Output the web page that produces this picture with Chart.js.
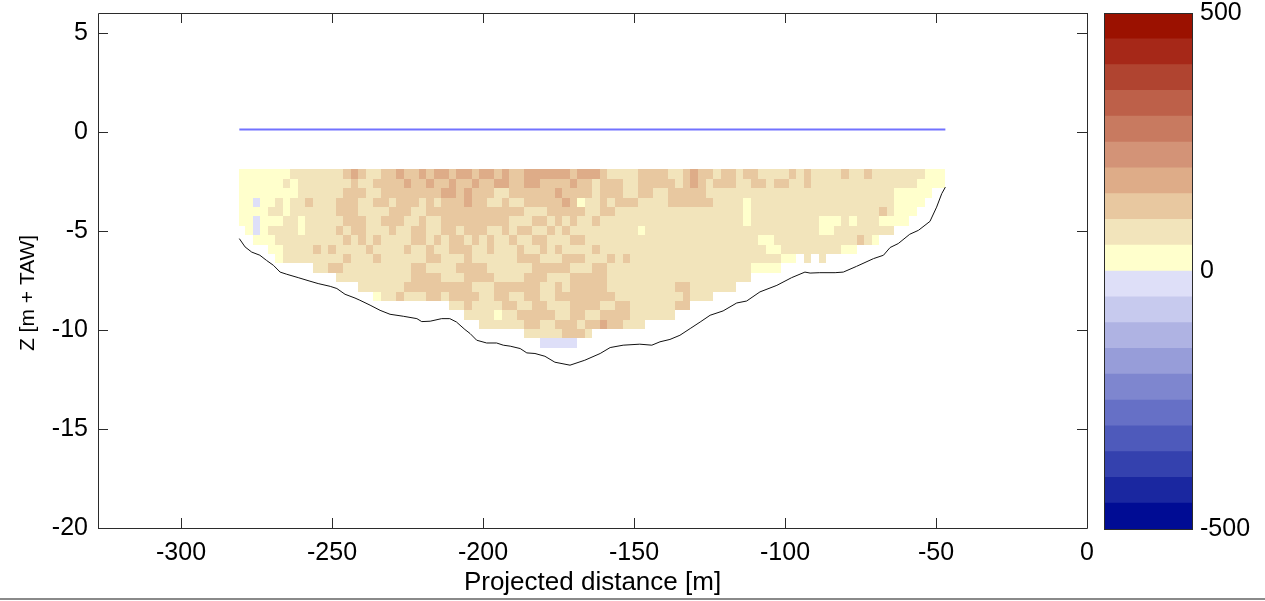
<!DOCTYPE html>
<html><head><meta charset="utf-8">
<script src="https://cdn.jsdelivr.net/npm/chart.js@4/dist/chart.umd.min.js"></script>
<style>
html,body{margin:0;padding:0;background:#fff;overflow:hidden}
#wrap{position:relative;width:1265px;height:601px}
#main{position:absolute;left:0;top:0}
#cbar{position:absolute;left:1090px;top:0}
#edge{position:absolute;left:0;top:598px;width:1265px;height:2px;background:#8a8a8a}
</style></head><body>
<div id="wrap"><canvas id="main" width="1265" height="601"></canvas><canvas id="cbar" width="175" height="601"></canvas><div id="edge"></div></div>
<script>
// ---------- data ----------
const xTicks = [-300, -250, -200, -150, -100, -50, 0];
const yTicks = [-20, -15, -10, -5, 0, 5];
const cbTicks = [-500, 0, 500];
const cbEdges = [-500,-450,-400,-350,-300,-250,-200,-150,-100,-50,0,50,100,150,200,250,300,350,400,450,500];
const cbColors = ['#000C94','#1A27A0','#3441AE','#4E5ABB','#6670C6','#7E86CF','#979DD9','#AFB3E3','#C7CAEE','#DEDFF8',
                  '#FFFFCC','#F2E4BB','#E8C8A0','#DEAC88','#D39377','#C87A60','#BD6049','#B04430','#A62818','#9B1100'];
// grid of cells (2.5 m wide, ~0.47 m tall); code -> representative value
const cellCodes = {'b': -25, '0': 25, '1': 75, '2': 125, '3': 175};
const gridX0 = -281.3, gridDX = 2.5, gridZ0 = -1.9, gridDZ = 0.474;
const cellRows = [
 "0000000111 1111232112 2322323323 3233232233 3333233321 1112222112 3221221221 1112121111 2112111111 1000",
 "0000001011 1111121122 2232232232 2322332233 2222322122 2112222212 3212221122 1221121111 1111111111 0000",
 "0000000011 1111222112 2222222332 3222112222 2232222122 2112211222 2211111111 1111111111 1111111000 00..",
 "00b0010112 1112221122 1222121222 3221121122 2223201121 2221111222 2221111011 1111111111 1111111000 0...",
 "0000110111 1112221111 2221122222 2222222211 1222221122 1111111111 1111111011 1111111111 1111121000 ....",
 "00b0001101 1111222112 2211211222 2222221112 2121211211 1111111111 1111111011 1111111000 101110000. ....",
 ".0b0111101 1112122111 2112211221 2221121221 1212111111 1110111111 1111111111 1111111001 1111111... ....",
 "..00011111 1111212121 1112212122 1212112112 2111221111 1111111111 1111111110 0111111111 11210..... ....",
 "....001111 2121111211 1121121122 2112111211 2121111211 1111111111 1111111111 0011111111 00........ ....",
 ".....01111 1111211121 1111122111 2111111222 1112221112 1211111111 1111111111 1100.1.1.. .......... ....",
 ".......... 1122111111 1112211112 2221111112 2222111221 1111111111 1111111100 00........ .......... ....",
 ".......... ...1111111 1112222111 2222111122 2111222221 1111111111 11111111.. .......... .......... ....",
 ".......... ......1111 1122222222 2111222222 1121222221 1111111122 111111.... .......... .......... ....",
 ".......... ........01 1211122122 2211221122 1122222222 1111111112 111....... .......... .......... ....",
 ".......... .......... ........11 2111122112 2111222211 2211111122 .......... .......... .......... ....",
 ".......... .......... .......... 1111011222 2211221122 22111111.. .......... .......... .......... ....",
 ".......... .......... .......... ..11111122 1122212232 2111...... .......... .......... .......... ....",
 ".......... .......... .......... ........11 1112221... .......... .......... .......... .......... ....",
 ".......... .......... .......... .......... bbbbb..... .......... .......... .......... .......... ...."
];
// river bed profile
const bedX = [-280.7,-278.8,-276.6,-273.9,-271.7,-269.4,-267.2,-265.0,-261.2,-257.3,-254.6,-250.6,-248.4,-245.7,-242.4,-240.8,-237.4,-234.1,-230.8,-226.4,-221.9,-220.3,-217.5,-213.7,-211.0,-208.8,-206.0,-204.3,-202.1,-198.8,-195.5,-193.3,-191.0,-187.7,-185.5,-182.8,-179.5,-176.2,-171.2,-166.3,-161.2,-157.9,-153.6,-148.1,-144.1,-141.4,-138.1,-134.8,-131.4,-128.1,-124.8,-120.5,-116.0,-112.7,-108.3,-102.7,-97.8,-93.4,-91.7,-88.5,-83.4,-80.7,-76.3,-70.7,-67.4,-65.2,-62.5,-58.7,-55.8,-52.0,-49.8,-48.1,-46.9];
const bedZ = [-5.39,-5.81,-6.07,-6.23,-6.49,-6.74,-7.08,-7.19,-7.36,-7.54,-7.66,-7.80,-7.91,-8.20,-8.39,-8.50,-8.75,-9.01,-9.21,-9.31,-9.43,-9.58,-9.56,-9.43,-9.43,-9.60,-9.98,-10.18,-10.52,-10.66,-10.66,-10.77,-10.82,-10.94,-11.16,-11.19,-11.33,-11.63,-11.78,-11.53,-11.19,-10.89,-10.77,-10.72,-10.77,-10.60,-10.48,-10.27,-9.93,-9.60,-9.26,-9.04,-8.64,-8.54,-8.08,-7.75,-7.36,-7.08,-7.13,-7.11,-7.11,-7.08,-6.79,-6.40,-6.23,-5.84,-5.64,-5.17,-4.97,-4.52,-3.80,-3.12,-2.79];
// water level
const waterX = [-280.7, -46.9];
const waterZ = [0.12, 0.12];

// ---------- rendering ----------
const FONT = 'Liberation Sans, Arial, Helvetica, sans-serif';
const rows = cellRows.map(s => s.replace(/ /g, ''));
function colorFor(v) {
  for (let i = 0; i < cbColors.length; i++) if (v >= cbEdges[i] && v < cbEdges[i + 1]) return cbColors[i];
  return cbColors[cbColors.length - 1];
}
const heatPlugin = {
  id: 'heat',
  beforeDatasetsDraw(chart) {
    const {ctx, scales: {x, y}, chartArea: a} = chart;
    ctx.save();
    const cl = x.getPixelForValue(bedX[0]), cr = x.getPixelForValue(bedX[bedX.length - 1]);
    ctx.beginPath();
    ctx.rect(Math.round(cl), a.top, Math.round(cr) - Math.round(cl), a.bottom - a.top);
    ctx.clip();
    rows.forEach((row, r) => {
      const yt = Math.round(y.getPixelForValue(gridZ0 - r * gridDZ));
      const yb = Math.round(y.getPixelForValue(gridZ0 - (r + 1) * gridDZ));
      for (let k = 0; k < row.length; k++) {
        const c = row[k];
        if (!(c in cellCodes)) continue;
        const xl = Math.round(x.getPixelForValue(gridX0 + k * gridDX));
        const xr = Math.round(x.getPixelForValue(gridX0 + (k + 1) * gridDX));
        ctx.fillStyle = colorFor(cellCodes[c]);
        ctx.fillRect(xl, yt, xr - xl, yb - yt);
      }
    });
    ctx.restore();
  }
};
const framePlugin = {
  id: 'frame',
  afterDraw(chart) {
    const {ctx, chartArea: a, scales: {x, y}} = chart;
    ctx.save();
    ctx.strokeStyle = '#2b2b2b';
    ctx.lineWidth = 1;
    ctx.beginPath();
    ctx.rect(Math.round(a.left) + 0.5, Math.round(a.top) + 0.5, Math.round(a.right - a.left), Math.round(a.bottom - a.top));
    ctx.stroke();
    const L = 10;
    ctx.beginPath();
    xTicks.forEach(v => {
      const px = Math.round(x.getPixelForValue(v)) + 0.5;
      ctx.moveTo(px, a.bottom); ctx.lineTo(px, a.bottom - L);
      ctx.moveTo(px, a.top); ctx.lineTo(px, a.top + L);
    });
    yTicks.forEach(v => {
      const py = Math.round(y.getPixelForValue(v)) + 0.5;
      ctx.moveTo(a.left, py); ctx.lineTo(a.left + L, py);
      ctx.moveTo(a.right, py); ctx.lineTo(a.right - L, py);
    });
    ctx.stroke();
    // y-axis title
    ctx.fillStyle = '#000';
    ctx.font = '21px ' + FONT;
    ctx.textAlign = 'center';
    ctx.textBaseline = 'middle';
    ctx.translate(28, 293);
    ctx.rotate(-Math.PI / 2);
    ctx.fillText(yTitle, 0, 0);
    ctx.restore();
  }
};
const yTitle = 'Z [m + TAW]';
new Chart(document.getElementById('main'), {
  type: 'line',
  data: {
    datasets: [
      {data: bedX.map((v, i) => ({x: v, y: bedZ[i]})), borderColor: '#111', borderWidth: 1, pointRadius: 0, tension: 0},
      {data: waterX.map((v, i) => ({x: v, y: waterZ[i]})), borderColor: '#7272ff', borderWidth: 2, pointRadius: 0}
    ]
  },
  options: {
    responsive: false, animation: false, devicePixelRatio: 1,
    layout: {padding: {top: 13, right: 178, left: 0, bottom: 0}},
    plugins: {legend: {display: false}, tooltip: {enabled: false}},
    scales: {
      x: {
        type: 'linear', min: -327.5, max: 0,
        grid: {display: false, drawTicks: false}, border: {display: false},
        afterBuildTicks: s => { s.ticks = xTicks.map(v => ({value: v})); },
        afterFit: s => { s.height = 73; s.paddingLeft = 0; s.paddingRight = 0; },
        ticks: {font: {family: FONT, size: 25}, color: '#000', padding: 10, maxRotation: 0, autoSkip: false, callback: v => String(v)},
        title: {display: true, text: 'Projected distance [m]', font: {family: FONT, size: 26}, color: '#000', padding: {top: 0, bottom: 3}}
      },
      y: {
        type: 'linear', min: -20, max: 6,
        grid: {display: false, drawTicks: false}, border: {display: false},
        afterBuildTicks: s => { s.ticks = yTicks.map(v => ({value: v})); },
        afterFit: s => { s.width = 98; s.paddingTop = 0; s.paddingBottom = 0; },
        ticks: {font: {family: FONT, size: 25}, color: '#000', padding: 10, autoSkip: false, callback: v => String(v)},
        title: {display: false}
      }
    }
  },
  plugins: [heatPlugin, framePlugin]
});

const cbFrame = {
  id: 'cbFrame',
  afterDraw(chart) {
    const {ctx, chartArea: a} = chart;
    ctx.save();
    ctx.strokeStyle = '#2b2b2b'; ctx.lineWidth = 1;
    ctx.strokeRect(Math.round(a.left) + 0.5, Math.round(a.top) + 0.5, Math.round(a.right - a.left) - 1, Math.round(a.bottom - a.top));
    ctx.restore();
  }
};
new Chart(document.getElementById('cbar'), {
  type: 'bar',
  data: {
    labels: ['c'],
    datasets: cbColors.map((c, i) => ({data: [[cbEdges[i], cbEdges[i + 1]]], backgroundColor: c, borderWidth: 0, grouped: false, barPercentage: 1, categoryPercentage: 1}))
  },
  options: {
    responsive: false, animation: false, devicePixelRatio: 1,
    layout: {padding: {left: 14, top: 13, bottom: 72, right: 0}},
    plugins: {legend: {display: false}, tooltip: {enabled: false}},
    scales: {
      x: {display: false},
      y: {
        position: 'right', min: -500, max: 500,
        grid: {display: false, drawTicks: false}, border: {display: false},
        afterBuildTicks: s => { s.ticks = cbTicks.map(v => ({value: v})); },
        afterFit: s => { s.width = 72; s.paddingTop = 0; s.paddingBottom = 0; },
        ticks: {font: {family: FONT, size: 25}, color: '#000', padding: 7, callback: v => String(v)}
      }
    }
  },
  plugins: [cbFrame]
});
</script>
</body></html>
